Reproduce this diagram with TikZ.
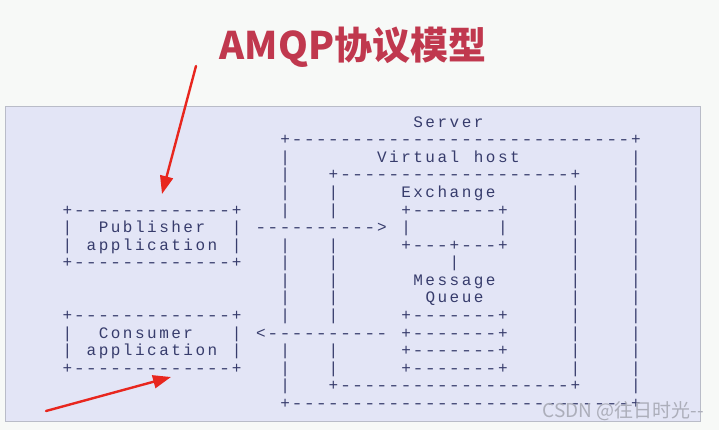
\documentclass[tikz,border=0pt]{standalone}
\usepackage{fontspec}
\usepackage{graphicx}
\setmonofont{Liberation Mono}
\newfontfamily\cjk{Noto Sans CJK SC}
\usetikzlibrary{arrows.meta}
\definecolor{bgc}{RGB}{247,249,247}
\definecolor{panelc}{RGB}{227,229,246}
\definecolor{panelline}{RGB}{185,188,200}
\definecolor{asciic}{RGB}{55,60,108}
\definecolor{titlered}{RGB}{192,56,78}
\definecolor{arrowred}{RGB}{232,38,30}
\definecolor{wmgray}{RGB}{172,174,186}
\newlength\cw
\setlength\cw{12.1pt}
\makeatletter
\def\mono#1{\mono@#1\@nil}
\def\mono@#1{\ifx#1\@nil\else\mono@c{#1}\expandafter\mono@\fi}
\def\mono@c#1{\if.#1\hbox to\cw{}\else\if-#1\hbox to\cw{\hss\scalebox{1.2}[1]{-}\hss}\else\hbox to\cw{\hss#1\hss}\fi\fi}
\makeatother
\newcommand\rowy[1]{-(127.3+17.56*#1)}
\begin{document}
\begin{tikzpicture}[x=1pt,y=1pt,
  asc/.style={anchor=base west, inner sep=0pt, outer sep=0pt, text=asciic,
    font=\ttfamily\fontsize{16}{16}\selectfont},
  titletext/.style={anchor=base, inner sep=0pt, text=titlered,
    font=\cjk\bfseries\fontsize{38}{38}\selectfont},
  wmtext/.style={anchor=east, inner sep=0pt, text=wmgray,
    font=\cjk\fontsize{19}{19}\selectfont},
  redarrow/.style={draw=arrowred, line width=2.4pt, line cap=round,
    -{Triangle[length=18pt,width=13pt]}}]
\fill[bgc] (0,0) rectangle (719,-430);
\useasboundingbox (0,0) rectangle (719,-430);
\draw[draw=panelline, fill=panelc, line width=0.8pt] (5,-106) rectangle (700,-421);
\node[titletext] (title) at (353,-60) {AMQP协议模型};
\node[asc] (r0) at (61.25,{\rowy{0}}) {\mono{.............................Server}};
\node[asc] (r1) at (61.25,{\rowy{1}}) {\mono{..................+----------------------------+}};
\node[asc] (r2) at (61.25,{\rowy{2}}) {\mono{..................|.......Virtual.host.........|}};
\node[asc] (r3) at (61.25,{\rowy{3}}) {\mono{..................|...+-------------------+....|}};
\node[asc] (r4) at (61.25,{\rowy{4}}) {\mono{..................|...|.....Exchange......|....|}};
\node[asc] (r5) at (61.25,{\rowy{5}}) {\mono{+-------------+...|...|.....+-------+.....|....|}};
\node[asc] (r6) at (61.25,{\rowy{6}}) {\mono{|..Publisher..|.---------->.|.......|.....|....|}};
\node[asc] (r7) at (61.25,{\rowy{7}}) {\mono{|.application.|...|...|.....+---+---+.....|....|}};
\node[asc] (r8) at (61.25,{\rowy{8}}) {\mono{+-------------+...|...|.........|.........|....|}};
\node[asc] (r9) at (61.25,{\rowy{9}}) {\mono{..................|...|......Message......|....|}};
\node[asc] (r10) at (61.25,{\rowy{10}}) {\mono{..................|...|.......Queue.......|....|}};
\node[asc] (r11) at (61.25,{\rowy{11}}) {\mono{+-------------+...|...|.....+-------+.....|....|}};
\node[asc] (r12) at (61.25,{\rowy{12}}) {\mono{|..Consumer...|.<----------.+-------+.....|....|}};
\node[asc] (r13) at (61.25,{\rowy{13}}) {\mono{|.application.|...|...|.....+-------+.....|....|}};
\node[asc] (r14) at (61.25,{\rowy{14}}) {\mono{+-------------+...|...|.....+-------+.....|....|}};
\node[asc] (r15) at (61.25,{\rowy{15}}) {\mono{..................|...+-------------------+....|}};
\node[asc] (r16) at (61.25,{\rowy{16}}) {\mono{..................+----------------------------+}};
\coordinate (a1s) at (196,-66);
\coordinate (a1e) at (162,-194);
\draw[redarrow] (a1s) -- (a1e);
\coordinate (a2s) at (46,-411);
\coordinate (a2e) at (171,-377);
\draw[redarrow] (a2s) -- (a2e);
\node[wmtext] (wm) at (704,-411) {CSDN @往日时光{-}{-}};
\end{tikzpicture}
\end{document}
